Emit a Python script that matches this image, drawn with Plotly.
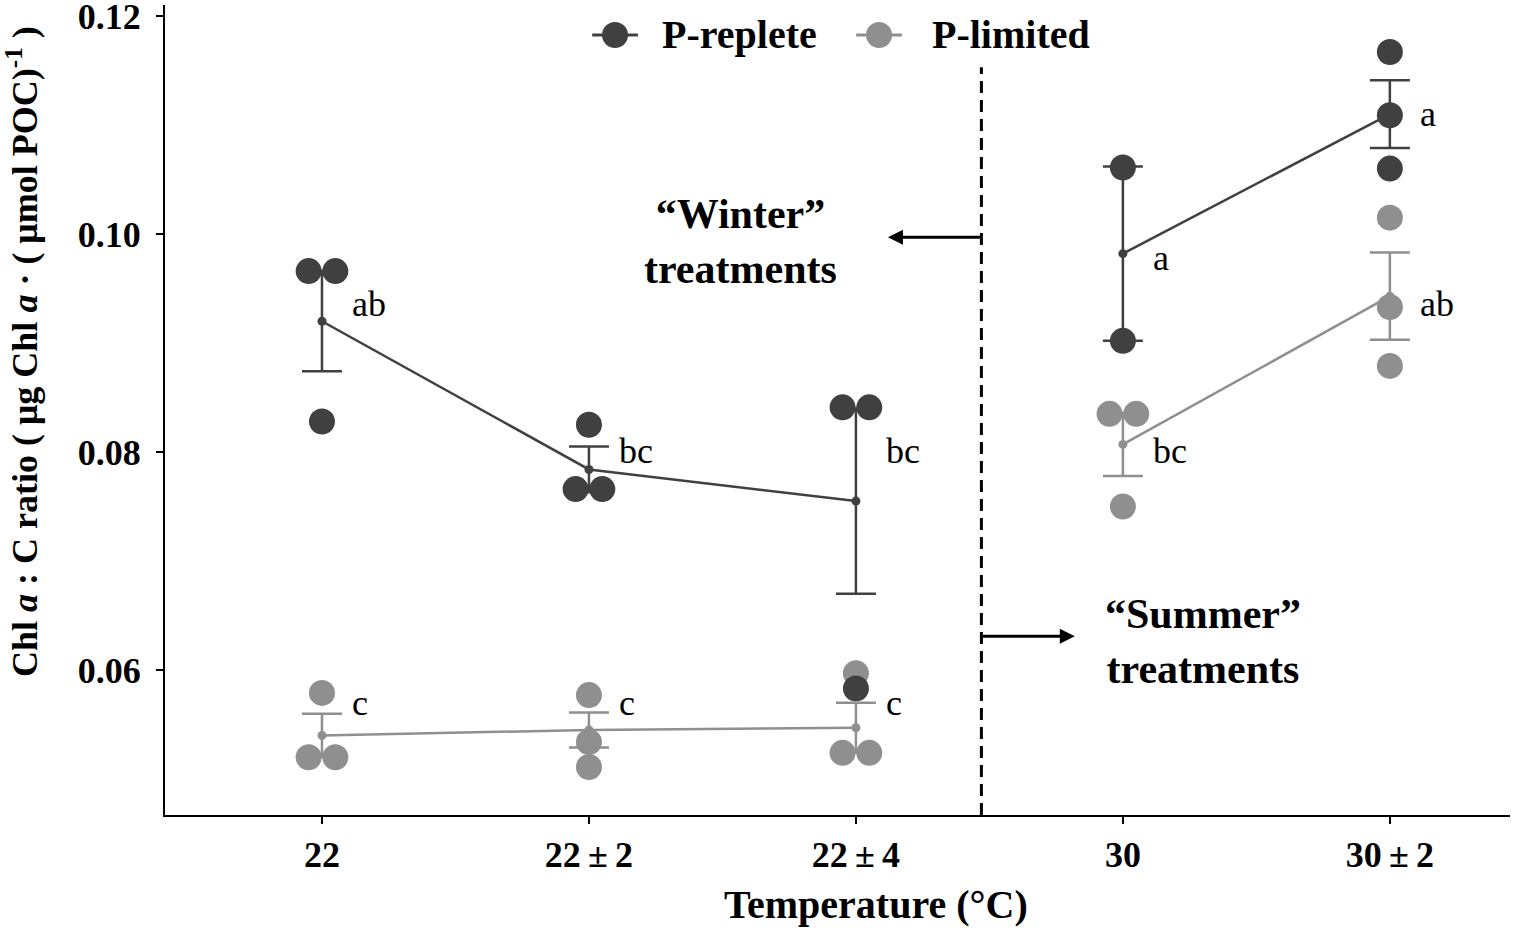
import plotly.graph_objects as go

# 温度处理
categories = ['22', '22\u2009±\u20092', '22\u2009±\u20094', '30', '30\u2009±\u20092']
season = ['winter', 'winter', 'winter', 'summer', 'summer']

# 单个重复的测量值 (每个处理)
replete_points = [[0.0966, 0.0966, 0.0828],
                  [0.0825, 0.0766, 0.0766],
                  [0.0841, 0.0841, 0.0583],
                  [0.1061, 0.0902],
                  [0.1167, 0.1109, 0.1060]]
limited_points = [[0.0579, 0.0520, 0.0520],
                  [0.0577, 0.0534, 0.0511],
                  [0.0597, 0.0524, 0.0524],
                  [0.0835, 0.0835, 0.0750],
                  [0.1015, 0.0933, 0.0879]]

# 平均值与标准差
replete_mean = [0.0920, 0.0784, 0.0755, 0.0982, 0.1110]
replete_sd = [0.0046, 0.0021, 0.0085, 0.0080, 0.0031]
limited_mean = [0.0540, 0.0545, 0.0547, 0.0807, 0.0943]
limited_sd = [0.0020, 0.0016, 0.0023, 0.0029, 0.0040]

# 显著性字母
replete_letters = ['ab', 'bc', 'bc', 'a', 'a']
limited_letters = ['c', 'c', 'c', 'bc', 'ab']
replete_letter_y = [0.0936, 0.0801, 0.0801, 0.0978, 0.1110]
limited_letter_y = [0.0570, 0.0570, 0.0570, 0.0801, 0.0936]

DARK = '#404040'
LIGHT = '#8f8f8f'
FONT = 'Liberation Serif'


def spread(groups, dx=0.05):
    """重复值左右错开"""
    xs, ys = [], []
    for i, vals in enumerate(groups):
        for j, v in enumerate(vals):
            dup = [k for k, w in enumerate(vals) if w == v]
            if len(dup) > 1:
                off = -dx if dup.index(j) == 0 else dx
            else:
                off = 0
            xs.append(i + off)
            ys.append(v)
    return xs, ys


fig = go.Figure()

for pts, col in [(limited_points, LIGHT), (replete_points, DARK)]:
    xs, ys = spread(pts)
    fig.add_trace(go.Scatter(x=xs, y=ys, mode='markers', showlegend=False,
                             marker=dict(size=26, color=col)))

for mean, sd, col in [(limited_mean, limited_sd, LIGHT), (replete_mean, replete_sd, DARK)]:
    for s in ['winter', 'summer']:
        idx = [i for i, g in enumerate(season) if g == s]
        fig.add_trace(go.Scatter(x=idx, y=[mean[i] for i in idx], mode='lines+markers',
                                 showlegend=False,
                                 line=dict(color=col, width=2.5),
                                 marker=dict(size=9, color=col),
                                 error_y=dict(type='data', array=[sd[i] for i in idx], visible=True,
                                              color=col, thickness=2.5, width=20)))

for letters, ly in [(replete_letters, replete_letter_y), (limited_letters, limited_letter_y)]:
    for i, (t, y) in enumerate(zip(letters, ly)):
        fig.add_annotation(x=i + 0.105, y=y, text=t, showarrow=False, xanchor='left',
                           font=dict(family=FONT, size=36, color='black'))

fig.add_annotation(x=1.566, y=0.0993, text='<b>“Winter”<br>treatments</b>', showarrow=False,
                   align='center', font=dict(family=FONT, size=42, color='black'))
fig.add_annotation(x=3.30, y=0.0626, text='<b>“Summer”<br>treatments</b>', showarrow=False,
                   align='center', font=dict(family=FONT, size=42, color='black'))

# 箭头
fig.add_annotation(x=2.12, y=0.0997, ax=2.47, ay=0.0997, xref='x', yref='y', axref='x', ayref='y',
                   text='', showarrow=True, arrowhead=2, arrowsize=1, arrowwidth=3, arrowcolor='black')
fig.add_annotation(x=2.82, y=0.0631, ax=2.47, ay=0.0631, xref='x', yref='y', axref='x', ayref='y',
                   text='', showarrow=True, arrowhead=2, arrowsize=1, arrowwidth=3, arrowcolor='black')

fig.add_shape(type='line', x0=2.47, x1=2.47, y0=0.0467, y1=0.1153, xref='x', yref='y',
              line=dict(color='black', width=3, dash='12px,7px'))

# 图例 (手动绘制)
legend_items = [('P-replete', DARK, 0.3346, 0.368), ('P-limited', LIGHT, 0.5309, 0.5686)]
for name, col, xc, xt in legend_items:
    fig.add_shape(type='line', xref='paper', yref='paper', x0=xc - 0.017, x1=xc + 0.017,
                  y0=0.963, y1=0.963, line=dict(color=col, width=3))
    fig.add_shape(type='circle', xref='paper', yref='paper', xsizemode='pixel', ysizemode='pixel',
                  xanchor=xc, yanchor=0.963, x0=-13, x1=13, y0=-13, y1=13,
                  fillcolor=col, line=dict(color=col, width=0))
    fig.add_annotation(x=xt, y=0.963, xref='paper', yref='paper', text='<b>%s</b>' % name,
                       showarrow=False, xanchor='left', yanchor='middle',
                       font=dict(family=FONT, size=40, color='black'))

# 坐标轴标题
fig.add_annotation(x=0.5286, y=-0.1111, xref='paper', yref='paper', showarrow=False,
                   xanchor='center', yanchor='middle',
                   text='<b>Temperature (°C)</b>', font=dict(family=FONT, size=40, color='black'))
fig.add_annotation(x=-0.1063, y=0.5716, xref='paper', yref='paper', showarrow=False, textangle=-90,
                   xanchor='center', yanchor='middle',
                   text='<b>Chl <i>a</i> : C ratio ( μg Chl <i>a</i> · ( μmol POC)<sup>-1</sup> )</b>',
                   font=dict(family=FONT, size=36, color='black'))

fig.update_layout(
    width=1530, height=928,
    paper_bgcolor='white', plot_bgcolor='white',
    margin=dict(l=165, r=20, t=5, b=113, autoexpand=False),
    font=dict(family=FONT, color='black'),
    showlegend=False,
    xaxis=dict(range=[-0.588, 4.45], tickmode='array', tickvals=list(range(len(categories))),
               ticktext=['<b>%s</b>' % c for c in categories], showgrid=False, zeroline=False,
               showline=True, linecolor='black', linewidth=2, ticks='outside', ticklen=7,
               tickwidth=2, tickcolor='black', tickfont=dict(family=FONT, size=36, color='black')),
    yaxis=dict(range=[0.0467, 0.12101], tickvals=[0.06, 0.08, 0.10, 0.12],
               ticktext=['<b>0.06</b>', '<b>0.08</b>', '<b>0.10</b>', '<b>0.12</b>'],
               showgrid=False, zeroline=False, showline=True, linecolor='black', linewidth=2,
               ticks='outside', ticklen=7, tickwidth=2, tickcolor='black', ticklabelstandoff=8,
               ticklabeloverflow='allow',
               tickfont=dict(family=FONT, size=36, color='black')),
)

# 去掉页面默认边距，让图铺满窗口
fig.write_html('out.html', config={'displayModeBar': False},
               post_script="document.body.style.margin='0';")
